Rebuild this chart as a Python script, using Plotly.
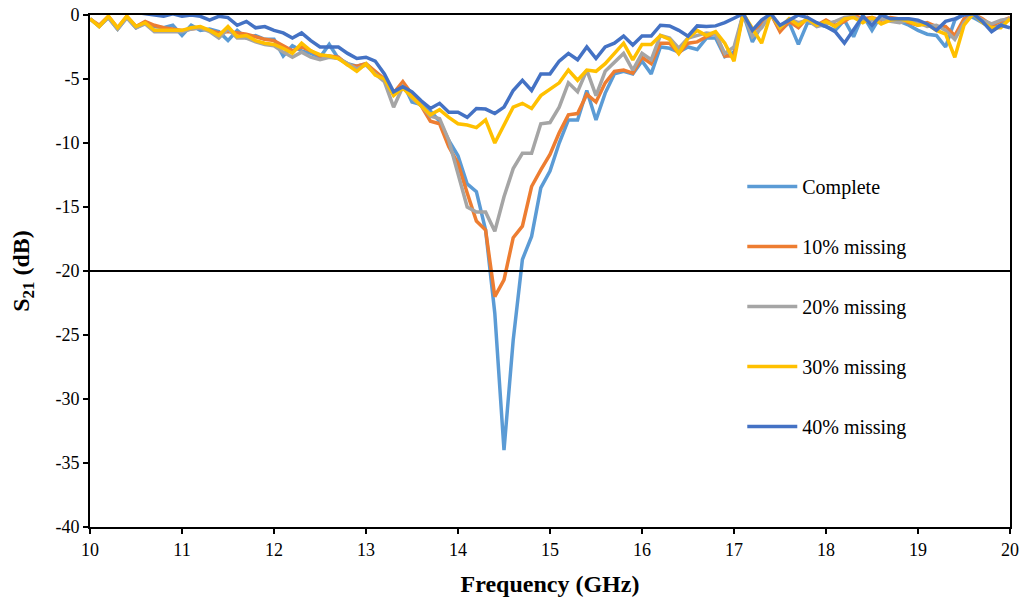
import plotly.graph_objects as go

freq = [round(10 + 0.1 * i, 1) for i in range(101)]

complete = [
    -0.3, -0.9, -0.2, -1.1, -0.2, -1.0, -0.6, -0.9, -1.0, -0.8,
    -1.6, -0.8, -1.2, -1.1, -1.3, -2.0, -1.2, -1.8, -1.6, -1.9,
    -1.9, -3.2, -2.4, -2.8, -3.0, -3.3, -2.3, -3.4, -3.8, -4.0,
    -3.8, -4.5, -5.1, -6.2, -5.3, -6.8, -7.0, -7.5, -8.3, -9.8,
    -11.0, -13.2, -13.8, -16.8, -23.3, -34.0, -25.4, -19.1, -17.3, -13.5,
    -12.2, -10.0, -8.2, -8.2, -5.9, -8.2, -6.1, -4.6, -4.4, -4.6,
    -3.6, -4.6, -2.5, -2.6, -2.9, -2.5, -2.7, -1.8, -1.8, -3.25,
    -2.9, 0.1, -2.1, -0.8, 0.1, -1.2, -0.6, -2.3, -0.6, -0.7,
    -0.9, -1.2, -0.4, -1.7, 0.0, -1.2, 0.0, -0.3, -0.5, -0.8,
    -1.2, -1.5, -1.6, -2.5, -0.4, 0.1, -0.2, -0.6, -1.0, -0.8,
    -0.3,
]
missing_10 = [
    -0.3, -0.8, -0.1, -1.0, -0.1, -0.9, -0.5, -0.8, -1.0, -1.1,
    -1.2, -1.1, -1.0, -1.2, -1.4, -1.3, -1.4, -1.5, -1.7, -1.9,
    -2.0, -2.4, -2.8, -2.5, -2.8, -3.2, -3.2, -3.3, -3.9, -4.0,
    -3.8, -4.4, -5.0, -6.1, -5.2, -6.2, -7.1, -8.3, -8.5, -10.3,
    -11.6, -13.9, -16.1, -16.8, -22.0, -20.7, -17.4, -16.5, -13.4, -12.1,
    -10.9, -9.2, -7.8, -7.7, -6.2, -6.8, -5.3, -4.4, -4.3, -4.55,
    -3.3, -3.8, -2.2, -2.2, -3.0, -2.2, -2.1, -1.7, -1.4, -3.2,
    -3.2, 0.1, -1.3, -0.6, 0.1, -1.3, -0.5, -1.0, -0.2, -0.8,
    -0.4, -0.8, -0.5, 0.0, -0.3, -0.2, -0.4, -0.2, -0.3, -0.6,
    -0.8, -0.6, -0.9, -0.9, -1.6, -0.3, 0.1, -0.3, -0.8, -0.5,
    -0.2,
]
missing_20 = [
    -0.3, -0.9, -0.2, -1.1, -0.2, -1.0, -0.7, -1.3, -1.3, -1.3,
    -1.3, -1.1, -1.0, -1.3, -1.8, -1.1, -1.8, -1.8, -2.1, -2.3,
    -2.4, -2.9, -3.3, -2.9, -3.3, -3.5, -3.3, -3.4, -3.8, -4.2,
    -3.9, -4.6, -5.2, -7.2, -5.6, -6.5, -7.1, -7.9, -8.1, -9.8,
    -12.4, -15.0, -15.4, -15.4, -16.9, -14.2, -12.0, -10.8, -10.8, -8.5,
    -8.4, -7.2, -5.3, -6.0, -4.3, -6.3, -4.4, -3.7, -3.0, -4.3,
    -3.0, -3.5, -1.6, -1.8, -2.6, -1.8, -1.6, -1.4, -1.5, -3.0,
    -2.5, 0.1, -1.7, -1.0, 0.1, -1.0, -0.3, -0.6, -0.4, -0.9,
    -0.7, -0.5, -0.2, -0.1, -0.5, -0.4, -0.3, -0.5, -0.6, -0.4,
    -0.6, -0.9, -0.8, -1.2, -1.9, -0.6, 0.1, -0.4, -0.7, -0.4,
    -0.3,
]
missing_30 = [
    -0.3, -0.9, -0.1, -1.0, -0.1, -0.9, -0.6, -1.2, -1.2, -1.2,
    -1.2, -1.0, -0.9, -1.2, -1.6, -0.9, -1.7, -1.6, -2.0, -2.2,
    -2.3, -2.6, -3.0, -2.2, -2.8, -3.1, -3.2, -3.4, -3.9, -4.4,
    -3.8, -4.7, -5.0, -6.3, -5.7, -6.4, -7.1, -7.8, -7.4, -8.0,
    -8.5, -8.6, -8.8, -8.2, -10.0, -8.6, -7.2, -6.9, -7.3, -6.3,
    -5.8, -5.3, -4.3, -5.1, -4.3, -4.4, -3.8, -3.0, -2.2, -3.5,
    -2.3, -2.3, -1.6, -1.9, -3.0, -1.8, -1.2, -1.6, -1.3, -2.2,
    -3.6, 0.1, -1.0, -2.2, 0.1, -1.0, -0.3, -0.8, -0.3, -0.8,
    -0.5, -0.9, -0.3, -0.2, -0.6, -0.2, -0.7, -0.4, -0.3, -0.5,
    -0.8, -0.7, -1.2, -1.5, -3.3, -0.8, 0.1, -0.6, -1.0, -1.0,
    -0.3,
]
missing_40 = [
    0.3, 0.2, 0.4, 0.2, 0.3, 0.2, 0.1, 0.0, -0.1, 0.1,
    -0.1, 0.0, -0.1, -0.4, -0.1, -0.2, -0.8, -0.5, -1.0, -0.9,
    -1.2, -1.4, -1.8, -1.4, -2.0, -2.5, -2.5, -2.5, -3.0, -3.4,
    -3.3, -3.6, -4.6, -6.0, -5.6, -6.0, -6.7, -7.3, -6.9, -7.6,
    -7.6, -8.0, -7.3, -7.35, -7.7, -7.2, -5.9, -5.1, -5.9, -4.6,
    -4.6, -3.6, -3.0, -3.5, -2.5, -3.4, -2.5, -2.2, -1.65, -2.35,
    -1.65, -1.65, -0.8, -0.85, -1.2, -1.65, -0.85, -0.9, -0.85, -0.6,
    -0.25, 0.1, -1.2, -0.4, 0.1, -0.8, -0.4, 0.0, -0.2, -0.6,
    -0.9, -1.3, -2.2, -1.2, -0.1, -0.8, 0.0, -0.3, -0.3, -0.3,
    -0.4, -0.7, -1.2, -0.5, -0.3, 0.0, 0.1, -0.5, -1.3, -0.8,
    -1.0,
]

series_names = ["Complete", "10% missing", "20% missing", "30% missing", "40% missing"]
series_values = [complete, missing_10, missing_20, missing_30, missing_40]
series_colors = ["#5B9BD5", "#ED7D31", "#A5A5A5", "#FFC000", "#4472C4"]

y_ticks = [0, -5, -10, -15, -20, -25, -30, -35, -40]
y_tick_labels = ["0", "-5", "-10", "-15", "-20", "-25", "-30", "-35", "-40"]
x_ticks = list(range(10, 21))

font_family = "Liberation Serif, Times New Roman, serif"

fig = go.Figure()
for name, values, color in zip(series_names, series_values, series_colors):
    fig.add_trace(go.Scatter(
        x=freq, y=values, name=name, mode="lines",
        line=dict(color=color, width=3.5),
        legendgroup=name,
    ))

# threshold line at -20 dB
fig.add_hline(y=-20, line=dict(color="black", width=2))

# the page body has an 8px margin, so the figure is a bit smaller than the window
fig.update_layout(
    width=1012,
    height=592,
    plot_bgcolor="white",
    paper_bgcolor="white",
    font=dict(family=font_family, size=18, color="black"),
    margin=dict(l=82, r=10, t=7, b=73, autoexpand=False),
    showlegend=True,
    legend=dict(
        x=0.709, y=0.703, xanchor="left", yanchor="top",
        bgcolor="rgba(0,0,0,0)",
        font=dict(family=font_family, size=20, color="black"),
        tracegroupgap=31,
        itemwidth=50,
    ),
    xaxis=dict(
        range=[10, 20],
        tickvals=x_ticks,
        ticks="outside", ticklen=5, tickwidth=1.5, tickcolor="black",
        showline=True, linecolor="black", linewidth=2, mirror=True,
        showgrid=False, zeroline=False, automargin=False,
        ticklabeloverflow="allow",
        title=dict(text="<b>Frequency (GHz)</b>", font=dict(size=24), standoff=17),
    ),
    yaxis=dict(
        range=[-40, 0],
        tickvals=y_ticks, ticktext=y_tick_labels,
        ticks="outside", ticklen=5, tickwidth=1.5, tickcolor="black",
        showline=True, linecolor="black", linewidth=2, mirror=True,
        showgrid=False, zeroline=False, automargin=False,
        ticklabeloverflow="allow",
        title=dict(text="<b>S<sub>21</sub> (dB)</b>", font=dict(size=24), standoff=23),
    ),
)

fig.write_html("out.html")
